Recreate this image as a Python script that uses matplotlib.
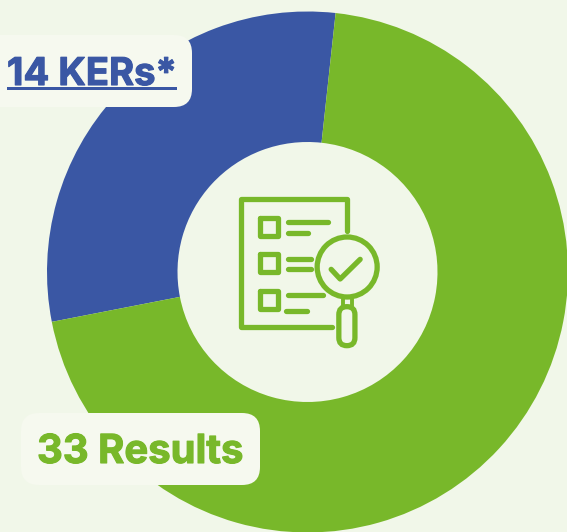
import matplotlib
matplotlib.use("Agg")
import matplotlib.pyplot as plt
import matplotlib.patheffects as pe
from matplotlib.patches import FancyBboxPatch, Circle, Rectangle

labels = ["14 KERs*", "33 Results"]
values = [14, 33]
colors = ["#3a57a4", "#78b82a"]

BG = "#f1f7e9"
BOX = "#f6f9ef"
W, H = 567, 532

fig = plt.figure(figsize=(W / 100, H / 100), dpi=100, facecolor=BG)
ax = fig.add_axes([0, 0, 1, 1])

ax.pie(values, colors=colors, startangle=83.8, center=(307.5, H - 272), radius=260.5,
       wedgeprops=dict(width=130.5, linewidth=0), frame=True)
ax.set_xlim(0, W)
ax.set_ylim(0, H)
ax.set_aspect("equal")
ax.axis("off")


def box(x0, y0, x1, y1):
    r = 18
    ax.add_patch(FancyBboxPatch((x0 + r, H - y1 + r), x1 - x0 - 2 * r, y1 - y0 - 2 * r,
                                boxstyle=f"round,pad={r},rounding_size={r}",
                                fc=BOX, ec="none", zorder=3))


box(-30, 35, 192, 107)
box(21, 413, 260, 485)

t1 = ax.text(7, H - 85, labels[0], color=colors[0], fontsize=27.5, family="Inter",
             weight="bold", va="baseline", ha="left", zorder=4)
ax.add_patch(Rectangle((7, H - 90), 170, 3, fc=colors[0], ec="none", zorder=4))
t2 = ax.text(37, H - 463, labels[1], color=colors[1], fontsize=28.8, family="Inter",
             weight="bold", va="baseline", ha="left", zorder=4)
t1.set_path_effects([pe.withStroke(linewidth=0.8, foreground=colors[0])])
t2.set_path_effects([pe.withStroke(linewidth=0.8, foreground=colors[1])])

LW = 3.8


def zx(x):
    return 199.5 + x / 3


def zy(y):
    return H - (170 + y / 3)


def stroke(pts, lw=LW):
    ax.plot([zx(p[0]) for p in pts], [zy(p[1]) for p in pts], color=colors[1], lw=lw,
            solid_capstyle="round", solid_joinstyle="round", zorder=5)


stroke([(442, 182), (442, 88), (125, 88), (125, 472), (397, 472)])
for top in (143, 253, 363):
    stroke([(182, top), (234, top), (234, top + 54), (182, top + 54), (182, top)])
for seg in [((265, 156), (386, 156)), ((265, 188), (326, 188)),
            ((265, 266), (333, 266)), ((265, 298), (333, 298)),
            ((265, 376), (370, 376)), ((260, 422), (323, 422))]:
    stroke(seg)
ax.add_patch(Circle((zx(443), zy(291)), 90 / 3, fc="none", ec=colors[1], lw=LW, zorder=5))
stroke([(395, 298), (422, 327), (482, 268)])
stroke([(430, 388), (430, 408)], lw=2.8)
stroke([(456, 388), (456, 408)], lw=2.8)
ax.add_patch(FancyBboxPatch((zx(442), zy(503)), 0.1, (503 - 434) / 3,
                            boxstyle="round,pad=8,rounding_size=8",
                            fc="none", ec=colors[1], lw=LW, zorder=5))

fig.savefig("out.png", dpi=100, facecolor=BG)
